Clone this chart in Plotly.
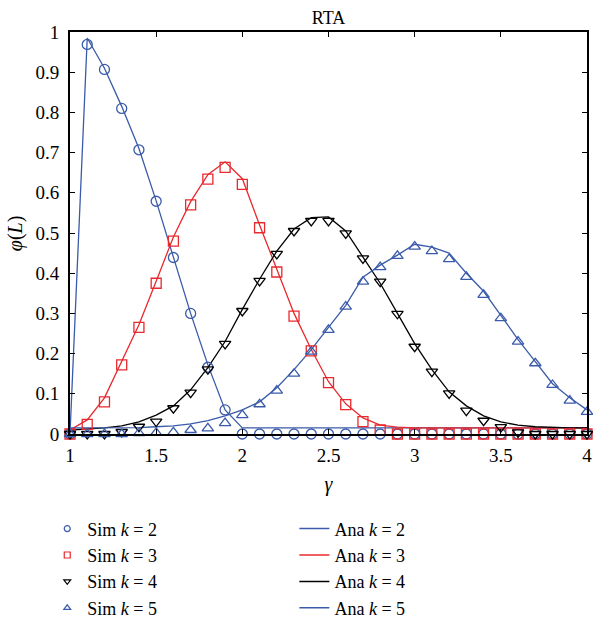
import plotly.graph_objects as go

# ---------------- data ----------------
gamma = [1.0, 1.1, 1.2, 1.3, 1.4, 1.5, 1.6, 1.7, 1.8, 1.9, 2.0, 2.1, 2.2, 2.3, 2.4, 2.5,
         2.6, 2.7, 2.8, 2.9, 3.0, 3.1, 3.2, 3.3, 3.4, 3.5, 3.6, 3.7, 3.8, 3.9, 4.0]

sim_k2 = [0.0, 0.969, 0.907, 0.81, 0.707, 0.579, 0.439, 0.30, 0.166, 0.06, 0.0, 0.0, 0.0, 0.0, 0.0, 0.0,
          0.0, 0.0, 0.0, 0.0, 0.0, 0.0, 0.0, 0.0, 0.0, 0.0, 0.0, 0.0, 0.0, 0.0, 0.0]
sim_k3 = [0.0, 0.024, 0.080, 0.172, 0.265, 0.375, 0.48, 0.570, 0.634, 0.663, 0.621, 0.513, 0.403, 0.293, 0.207, 0.128,
          0.073, 0.031, 0.01, 0.0, 0.0, 0.0, 0.0, 0.0, 0.0, 0.0, 0.0, 0.0, 0.0, 0.0, 0.0]
sim_k4 = [0.0, 0.0, 0.0, 0.005, 0.018, 0.031, 0.064, 0.103, 0.161, 0.224, 0.306, 0.381, 0.448, 0.505, 0.530, 0.530,
          0.499, 0.437, 0.379, 0.299, 0.217, 0.155, 0.101, 0.058, 0.033, 0.017, 0.004, 0.0, 0.0, 0.0, 0.0]
sim_k5 = [0.0, 0.0, 0.0, 0.0, 0.002, 0.003, 0.004, 0.010, 0.014, 0.027, 0.047, 0.074, 0.108, 0.150, 0.205, 0.259,
          0.317, 0.379, 0.415, 0.443, 0.466, 0.455, 0.435, 0.391, 0.346, 0.288, 0.230, 0.176, 0.122, 0.083, 0.055]

ana_k2 = [0.0, 0.985, 0.91, 0.815, 0.71, 0.58, 0.44, 0.30, 0.172, 0.06, 0.015, 0.015, 0.015, 0.015, 0.015, 0.015,
          0.015, 0.015, 0.015, 0.015, 0.015, 0.015, 0.015, 0.015, 0.015, 0.015, 0.015, 0.015, 0.015, 0.015, 0.015]
ana_k3 = [0.01, 0.035, 0.09, 0.18, 0.272, 0.38, 0.49, 0.578, 0.645, 0.677, 0.635, 0.52, 0.41, 0.30, 0.21, 0.13,
          0.075, 0.04, 0.022, 0.017, 0.015, 0.015, 0.015, 0.015, 0.015, 0.015, 0.015, 0.015, 0.015, 0.015, 0.015]
ana_k4 = [0.01, 0.012, 0.015, 0.02, 0.03, 0.047, 0.07, 0.11, 0.165, 0.23, 0.31, 0.385, 0.455, 0.51, 0.538, 0.54,
          0.505, 0.44, 0.375, 0.30, 0.225, 0.16, 0.105, 0.07, 0.045, 0.03, 0.022, 0.018, 0.016, 0.015, 0.015]
ana_k5 = [0.015, 0.015, 0.015, 0.015, 0.016, 0.018, 0.02, 0.025, 0.033, 0.045, 0.06, 0.08, 0.115, 0.16, 0.21, 0.265,
          0.32, 0.39, 0.42, 0.445, 0.472, 0.465, 0.45, 0.40, 0.355, 0.295, 0.235, 0.18, 0.125, 0.09, 0.06]

x_ticks = [1, 1.5, 2, 2.5, 3, 3.5, 4]
x_tick_labels = ["1", "1.5", "2", "2.5", "3", "3.5", "4"]
y_ticks = [0, 0.1, 0.2, 0.3, 0.4, 0.5, 0.6, 0.7, 0.8, 0.9, 1]
y_tick_labels = ["0", "0.1", "0.2", "0.3", "0.4", "0.5", "0.6", "0.7", "0.8", "0.9", "1"]

BLUE = "#3A5BAA"
RED = "#E8292E"
BLACK = "#000000"
FONT = "Liberation Serif"

fig = go.Figure()

# analytic lines
ana = [(ana_k2, BLUE, "2"), (ana_k3, RED, "3"), (ana_k4, BLACK, "4"), (ana_k5, BLUE, "5")]
for ys, c, k in ana:
    fig.add_trace(go.Scatter(x=gamma, y=ys, mode="lines", line=dict(color=c, width=1.3),
                             showlegend=False, cliponaxis=False, hoverinfo="skip"))

# simulation markers
sims = [(sim_k2, BLUE, "circle-open", "2"), (sim_k3, RED, "square-open", "3"),
        (sim_k4, BLACK, "triangle-down-open", "4"), (sim_k5, BLUE, "triangle-up-open", "5")]
for ys, c, sym, k in sims:
    fig.add_trace(go.Scatter(x=gamma, y=ys, mode="markers",
                             marker=dict(symbol=sym, size=10, color=c, line=dict(color=c, width=1.3)),
                             showlegend=False, cliponaxis=False))

# legend entries (small markers like the reference)
for ys, c, sym, k in sims:
    fig.add_trace(go.Scatter(x=[None], y=[None], mode="markers",
                             marker=dict(symbol=sym, size=6, color=c, line=dict(color=c, width=1.2)),
                             name="Sim <i>k</i> = " + k, legend="legend", legendgroup="s" + k))
for ys, c, k in ana:
    fig.add_trace(go.Scatter(x=[None], y=[None], mode="lines", line=dict(color=c, width=1.5),
                             name="Ana <i>k</i> = " + k, legend="legend2", legendgroup="a" + k))

axis_common = dict(showline=True, linecolor="black", linewidth=2, mirror="ticks", ticks="inside",
                   ticklen=5, tickcolor="black", tickwidth=1, showgrid=False, zeroline=False,
                   ticklabeloverflow="allow", automargin=False,
                   tickfont=dict(family=FONT, size=19, color="black"))

fig.update_layout(
    width=593, height=618,
    margin=dict(l=70, r=6, t=32, b=184, autoexpand=False),
    paper_bgcolor="white", plot_bgcolor="white",
    font=dict(family=FONT, size=18, color="black"),
    title=dict(text="RTA", x=0.5, xanchor="center", xref="paper", y=0.972, yanchor="middle",
               font=dict(family=FONT, size=18, color="black")),
    xaxis=dict(range=[1, 4], tickvals=x_ticks, ticktext=x_tick_labels,
               title=dict(text="<i>γ</i>", standoff=12, font=dict(family=FONT, size=20)),
               ticklabelstandoff=3, **axis_common),
    yaxis=dict(range=[0, 1], tickvals=y_ticks, ticktext=y_tick_labels,
               ticklabelstandoff=5, **axis_common),
    annotations=[dict(text="<i>φ</i>(<i>L</i>)", textangle=-90, xref="paper", yref="paper",
                      x=-0.106, y=0.5, xanchor="center", yanchor="middle", showarrow=False,
                      font=dict(family=FONT, size=20, color="black"))],
    legend=dict(x=-0.044, xanchor="left", y=-0.19, yanchor="top", orientation="v",
                tracegroupgap=0, bgcolor="rgba(0,0,0,0)", font=dict(family=FONT, size=18)),
    legend2=dict(x=0.434, xanchor="left", y=-0.19, yanchor="top", orientation="v",
                 tracegroupgap=0, bgcolor="rgba(0,0,0,0)", font=dict(family=FONT, size=18)),
)

fig.write_html("out.html", config={"displayModeBar": False},
               post_script="document.body.style.margin='0px';document.body.style.padding='0px';")
